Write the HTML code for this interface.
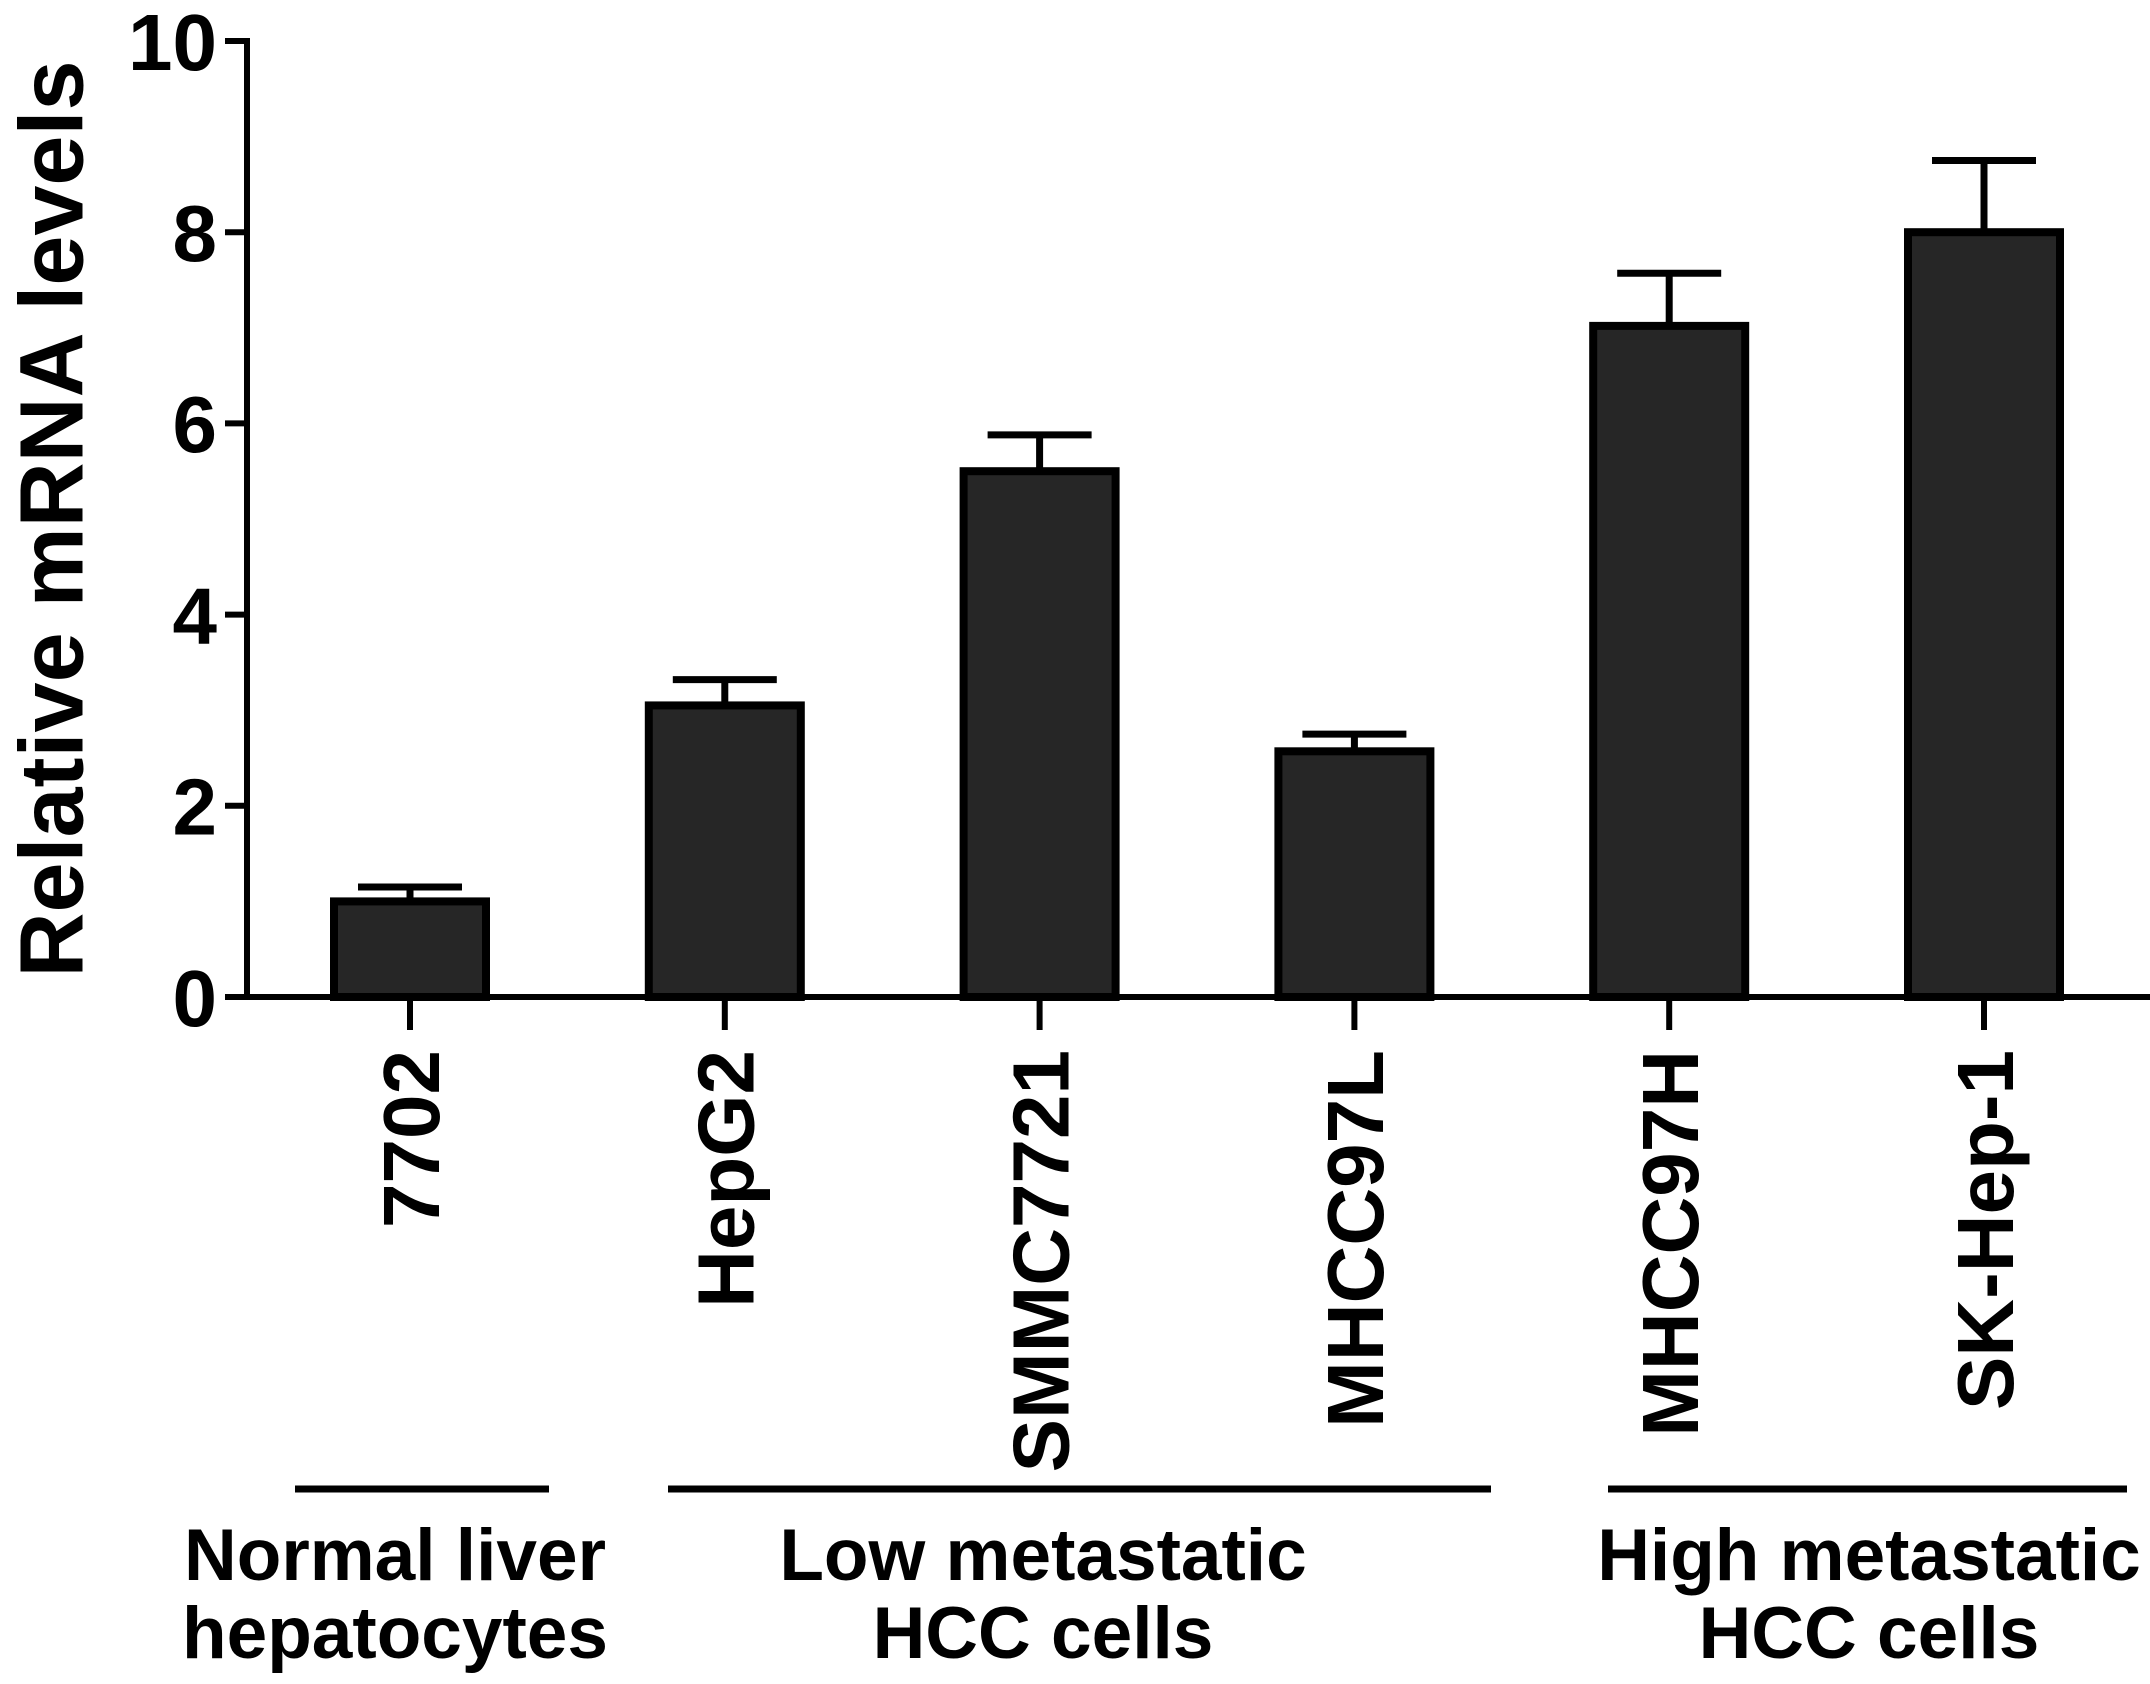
<!DOCTYPE html>
<html><head><meta charset="utf-8"><style>
html,body{margin:0;padding:0;background:#fff;}
svg{display:block;font-family:"Liberation Sans",Arial,sans-serif;font-weight:bold;}
</style></head><body>
<svg id="chart" width="2150" height="1684" viewBox="0 0 2150 1684" xmlns="http://www.w3.org/2000/svg">
<g id="plot"></g>
</svg>
<script>
const categories = ["7702","HepG2","SMMC7721","MHCC97L","MHCC97H","SK-Hep-1"];
const values = [1.0, 3.05, 5.5, 2.57, 7.02, 8.0];
const errors = [0.15, 0.27, 0.38, 0.18, 0.55, 0.75];
const yTicks = [0, 2, 4, 6, 8, 10];
const groups = [
  {lines:["Normal liver","hepatocytes"], from:0, to:0},
  {lines:["Low metastatic","HCC cells"], from:1, to:3},
  {lines:["High metastatic","HCC cells"], from:4, to:5}
];
const NS="http://www.w3.org/2000/svg";
const g=document.getElementById('plot');
const axX=247, y0=997, y10=41, yMax=10;
const y=v=>y0-(v/yMax)*(y0-y10);
const x0=410, step=314.8, bw=152;
const xc=i=>x0+i*step;
function el(t,a){const e=document.createElementNS(NS,t);for(const k in a)e.setAttribute(k,a[k]);g.appendChild(e);return e;}
categories.forEach((c,i)=>{
  const cx=xc(i);
  const eb=el('line',{x1:cx,x2:cx,y1:y(values[i]),y2:y(values[i]+errors[i]),stroke:'#000','stroke-width':7});
  
  
  const cap=el('line',{x1:cx-52,x2:cx+52,y1:y(values[i]+errors[i]),y2:y(values[i]+errors[i]),stroke:'#000','stroke-width':7});
  
  
  const r=el('rect',{x:cx-bw/2,y:y(values[i]),width:bw,height:y0-y(values[i]),fill:'#262626',stroke:'#000','stroke-width':8});
  
  
  const tk=el('line',{x1:cx,x2:cx,y1:y0,y2:y0+33,stroke:'#000','stroke-width':6});
  
  
  const t=el('text',{x:0,y:0,transform:`translate(${cx},1050) rotate(-90)`,'text-anchor':'end',dy:'0.36em','font-size':80,fill:'#000'});
  t.textContent=c;
  
  
});
const ya=el('line',{x1:axX,x2:axX,y1:y10-3,y2:y0+3,stroke:'#000','stroke-width':6});


const xa=el('line',{x1:axX-3,x2:2150,y1:y0,y2:y0,stroke:'#000','stroke-width':6});


yTicks.forEach(v=>{
  const l=el('line',{x1:axX-22,x2:axX,y1:y(v),y2:y(v),stroke:'#000','stroke-width':6});
  
  
  const t=el('text',{x:axX-30,y:y(v),dy:'0.36em','text-anchor':'end','font-size':80,fill:'#000'});
  t.textContent=v;
  
  
});
const yt=el('text',{x:0,y:0,transform:'translate(50,519) rotate(-90)','text-anchor':'middle',dy:'0.36em','font-size':90,fill:'#000'});
yt.textContent='Relative mRNA levels';


const gx=[[295,549],[668,1491],[1608,2127]];
const gc=[395,1043,1869];
groups.forEach((gr,i)=>{
  const l=el('line',{x1:gx[i][0],x2:gx[i][1],y1:1489,y2:1489,stroke:'#000','stroke-width':7});
  
  
  gr.lines.forEach((s,j)=>{
    const t=el('text',{x:gc[i],y:1580+j*78,'text-anchor':'middle','font-size':73,fill:'#000'});
    t.textContent=s;
    
    
  });
});
</script>
</body></html>
